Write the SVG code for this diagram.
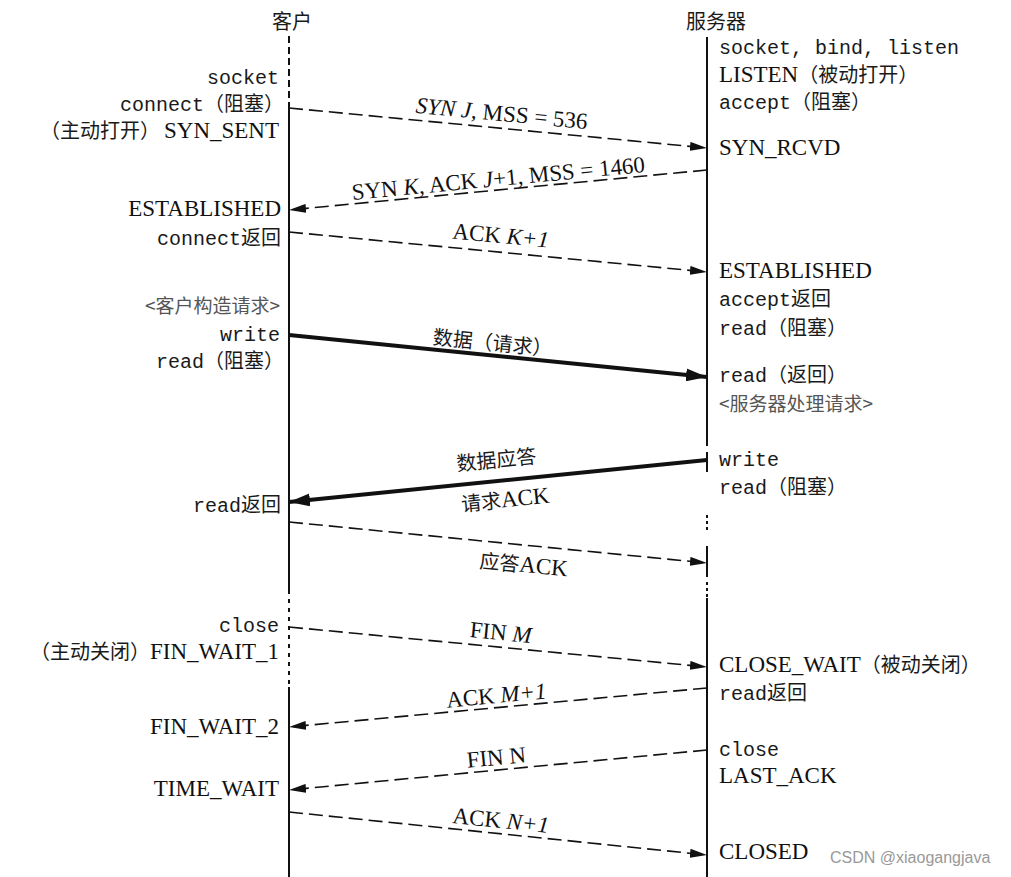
<svg xmlns="http://www.w3.org/2000/svg" width="1011" height="877" viewBox="0 0 1011 877">
<style>
.m{font-family:"Liberation Mono","Noto Sans CJK SC",monospace;font-size:20px;fill:#1a1a1a}
.s{font-family:"Liberation Serif","Noto Sans CJK SC",serif;font-size:23px;fill:#111}
.c{font-family:"Noto Sans CJK SC",sans-serif;font-size:20px;fill:#1a1a1a}
.cl{font-family:"Noto Sans CJK SC",sans-serif;font-size:19px;fill:#555}
.i{font-style:italic}
.end{text-anchor:end}
.mid{text-anchor:middle}
.life{stroke:#111;stroke-width:2;fill:none}
.dash{stroke:#111;stroke-width:1.6;fill:none;stroke-dasharray:14 6}
.thick{stroke:#111;stroke-width:4;fill:none}
</style>
<defs>
<marker id="ah" viewBox="0 0 17 9" refX="17" refY="4.5" markerWidth="17" markerHeight="9" markerUnits="userSpaceOnUse" orient="auto">
<path d="M0,0 L17,4.5 L0,9 z" fill="#111"/>
</marker>
<marker id="ahb" viewBox="0 0 21 13" refX="21" refY="6.5" markerWidth="21" markerHeight="13" markerUnits="userSpaceOnUse" orient="auto">
<path d="M0,0 L21,6.5 L0,13 z" fill="#111"/>
</marker>
</defs>
<rect width="1011" height="877" fill="#fff"/>

<g id="client">
<text class="c mid" x="292" y="29">客户</text>
<line class="life" x1="289" y1="36" x2="289" y2="108" stroke-dasharray="7 4"/>
<line class="life" x1="289" y1="108" x2="289" y2="590"/>
<line class="life" x1="289" y1="590" x2="289" y2="687" stroke-dasharray="4 5" stroke="#666"/>
<line class="life" x1="289" y1="687" x2="289" y2="877"/>
<text class="m end" x="279" y="84">socket</text>
<text class="m end" x="284" y="111">connect（阻塞）</text>
<text class="end" x="279" y="138"><tspan class="c">（主动打开）</tspan><tspan class="s" dx="4">SYN_SENT</tspan></text>
<text class="s end" x="281" y="216">ESTABLISHED</text>
<text class="m end" x="281" y="245">connect返回</text>
<text class="cl end" x="280" y="313">&lt;客户构造请求&gt;</text>
<text class="m end" x="280" y="341">write</text>
<text class="m end" x="284" y="368">read（阻塞）</text>
<text class="m end" x="281" y="512">read返回</text>
<text class="m end" x="279" y="632">close</text>
<text class="end" x="279" y="659"><tspan class="c">（主动关闭）</tspan><tspan class="s">FIN_WAIT_1</tspan></text>
<text class="s end" x="279" y="734">FIN_WAIT_2</text>
<text class="s end" x="279" y="796">TIME_WAIT</text>
</g>

<g id="server">
<text class="c mid" x="716" y="29">服务器</text>
<line class="life" x1="707" y1="37" x2="707" y2="446"/>
<line class="life" x1="707" y1="452" x2="707" y2="472"/>
<line class="life" x1="707" y1="515" x2="707" y2="531" stroke-dasharray="3 3" stroke-width="1.5"/>
<line class="life" x1="707" y1="546" x2="707" y2="577"/>
<line class="life" x1="707" y1="582" x2="707" y2="598" stroke-dasharray="3 3" stroke-width="1.5"/>
<line class="life" x1="707" y1="598" x2="707" y2="877"/>
<text class="m" x="719" y="54">socket, bind, listen</text>
<text x="719" y="82"><tspan class="s">LISTEN</tspan><tspan class="c">（被动打开）</tspan></text>
<text class="m" x="719" y="109">accept（阻塞）</text>
<text class="s" x="719" y="155">SYN_RCVD</text>
<text class="s" x="719" y="278">ESTABLISHED</text>
<text class="m" x="719" y="306">accept返回</text>
<text class="m" x="719" y="335">read（阻塞）</text>
<text class="m" x="719" y="382">read（返回）</text>
<text class="cl" x="719" y="411">&lt;服务器处理请求&gt;</text>
<text class="m" x="719" y="466">write</text>
<text class="m" x="719" y="494">read（阻塞）</text>
<text x="719" y="672"><tspan class="s">CLOSE_WAIT</tspan><tspan class="c">（被动关闭）</tspan></text>
<text class="m" x="719" y="700">read返回</text>
<text class="m" x="719" y="756">close</text>
<text class="s" x="719" y="783">LAST_ACK</text>
<text class="s" x="719" y="859">CLOSED</text>
</g>

<g id="connectors">
<line class="dash" x1="289" y1="108" x2="707" y2="148" marker-end="url(#ah)"/>
<line class="dash" x1="707" y1="170" x2="289" y2="210" marker-end="url(#ah)"/>
<line class="dash" x1="289" y1="232" x2="707" y2="272" marker-end="url(#ah)"/>
<line class="thick" x1="289" y1="335" x2="707" y2="377" marker-end="url(#ahb)"/>
<line class="thick" x1="707" y1="460" x2="289" y2="502" marker-end="url(#ahb)"/>
<line class="dash" x1="289" y1="522" x2="707" y2="563" marker-end="url(#ah)"/>
<line class="dash" x1="289" y1="627" x2="707" y2="667" marker-end="url(#ah)"/>
<line class="dash" x1="707" y1="688" x2="289" y2="727" marker-end="url(#ah)"/>
<line class="dash" x1="707" y1="750" x2="289" y2="790" marker-end="url(#ah)"/>
<line class="dash" x1="289" y1="812" x2="707" y2="855" marker-end="url(#ah)"/>
</g>

<g id="labels">
<text class="s mid" x="501" y="121" transform="rotate(5.47 501 121)"><tspan class="i">SYN J</tspan>, MSS = 536</text>
<text class="s mid" x="499" y="186" transform="rotate(-5.47 499 186)">SYN <tspan class="i">K</tspan>, ACK <tspan class="i">J</tspan>+1, MSS = 1460</text>
<text class="s mid" x="500" y="243" transform="rotate(5.47 500 243)">ACK <tspan class="i">K+1</tspan></text>
<text class="c mid" x="492" y="350" transform="rotate(5.74 492 350)">数据（请求）</text>
<text class="c mid" x="497" y="467" transform="rotate(-5.74 497 467)">数据应答</text>
<text class="mid" x="506" y="507" transform="rotate(-5.74 506 507)"><tspan class="c">请求</tspan><tspan class="s">ACK</tspan></text>
<text class="mid" x="523" y="572" transform="rotate(5.6 523 572)"><tspan class="c">应答</tspan><tspan class="s">ACK</tspan></text>
<text class="s mid" x="500" y="640" transform="rotate(5.47 500 640)">FIN <tspan class="i">M</tspan></text>
<text class="s mid" x="497" y="703" transform="rotate(-5.33 497 703)">ACK <tspan class="i">M+1</tspan></text>
<text class="s mid" x="497" y="765" transform="rotate(-5.47 497 765)">FIN N</text>
<text class="s mid" x="500" y="828" transform="rotate(5.87 500 828)">ACK <tspan class="i">N+1</tspan></text>
</g>

<text x="830" y="863" font-family="Liberation Sans, sans-serif" font-size="16" fill="#999">CSDN @xiaogangjava</text>
</svg>
